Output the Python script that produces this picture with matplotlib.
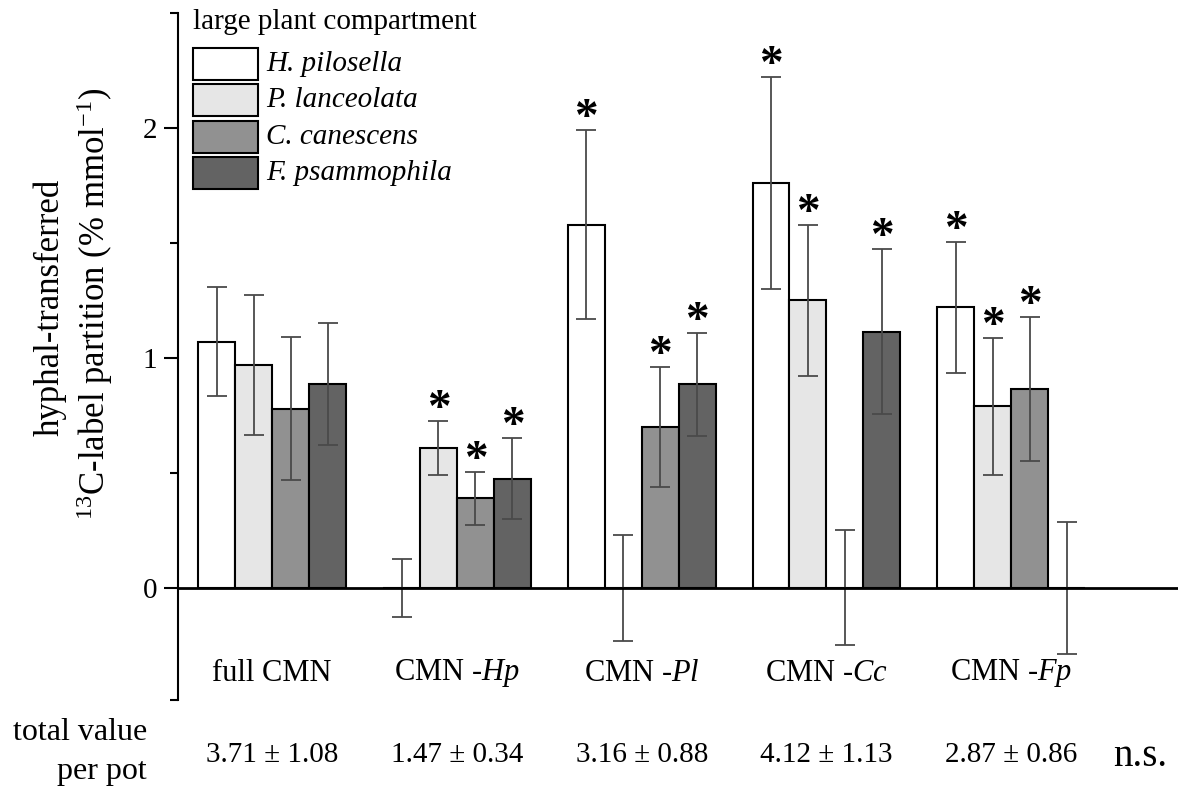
import matplotlib
matplotlib.use("Agg")
import matplotlib.pyplot as plt
from matplotlib.patches import Rectangle
from matplotlib.ticker import FixedLocator
import numpy as np

plt.rcParams['font.family'] = ['Liberation Serif', 'DejaVu Serif']
plt.rcParams['mathtext.fontset'] = 'custom'
plt.rcParams['mathtext.rm'] = 'Liberation Serif'
plt.rcParams['mathtext.it'] = 'Liberation Serif:italic'

# ---------------- data ----------------
groups = ["full CMN", r"CMN -$\mathit{Hp}$", r"CMN -$\mathit{Pl}$",
          r"CMN -$\mathit{Cc}$", r"CMN -$\mathit{Fp}$"]
species = ["H. pilosella", "P. lanceolata", "C. canescens", "F. psammophila"]
colors = ["#ffffff", "#e6e6e6", "#919191", "#636363"]

mean_hp = [1.07, 0.00, 1.58, 1.76, 1.22]
mean_pl = [0.97, 0.61, 0.00, 1.25, 0.79]
mean_cc = [0.78, 0.39, 0.70, 0.00, 0.865]
mean_fp = [0.885, 0.475, 0.885, 1.115, 0.00]

se_hp = [0.237, 0.125, 0.41, 0.46, 0.284]
se_pl = [0.303, 0.118, 0.229, 0.33, 0.298]
se_cc = [0.31, 0.115, 0.263, 0.25, 0.314]
se_fp = [0.265, 0.175, 0.225, 0.36, 0.286]

sig_hp = [0, 0, 1, 1, 1]
sig_pl = [0, 1, 0, 1, 1]
sig_cc = [0, 1, 1, 0, 1]
sig_fp = [0, 1, 1, 1, 0]

totals = ["3.71 ± 1.08", "1.47 ± 0.34", "3.16 ± 0.88", "4.12 ± 1.13", "2.87 ± 0.86"]

means = [mean_hp, mean_pl, mean_cc, mean_fp]
ses = [se_hp, se_pl, se_cc, se_fp]
sigs = [sig_hp, sig_pl, sig_cc, sig_fp]

# ---------------- figure ----------------
W, H = 1180, 787
fig = plt.figure(figsize=(W / 100, H / 100), dpi=100)
ax = fig.add_axes([178 / W, 1 - 700 / H, (1178 - 178) / W, (700 - 13) / H])

bw = 0.2
x = np.arange(len(groups))
for j in range(4):
    xpos = x + (j - 1.5) * bw
    ax.bar(xpos, means[j], width=bw, color=colors[j], edgecolor="black",
           linewidth=1.5, zorder=2)
    ax.errorbar(xpos, means[j], yerr=ses[j], fmt="none", ecolor="#4a4a4a",
                elinewidth=1.3, capsize=7, capthick=1.3, zorder=3)
    for i in range(len(groups)):
        if sigs[j][i]:
            ax.annotate("*", xy=(xpos[i], means[j][i] + ses[j][i]),
                        xytext=(0, 0), textcoords="offset points",
                        ha="center", va="baseline", fontsize=34,
                        fontweight="bold", zorder=4)

ax.axhline(0, color="black", lw=2.0, zorder=5)

ax.set_xlim(-0.51, 4.903)
ax.set_ylim(-0.487, 2.5)
for s in ["top", "right", "bottom"]:
    ax.spines[s].set_visible(False)
ax.spines["left"].set_linewidth(1.5)
ax.set_xticks([])
ax.set_yticks([0, 1, 2])
ax.yaxis.set_minor_locator(FixedLocator([-0.487, 0.5, 1.5, 2.5]))
ax.tick_params(axis="y", which="major", length=10, width=1.5, labelsize=21, pad=5)
ax.tick_params(axis="y", which="minor", length=6, width=1.5)

# group labels
for i, g in enumerate(groups):
    ax.text(i, -0.37, g, ha="center", va="center", fontsize=22)

# y label
fig.text(50 / W, 1 - 307 / H, "hyphal-transferred", rotation=90,
         ha="center", va="center", fontsize=25)
fig.text(95 / W, 1 - 304 / H, r"$^{13}$C-label partition (% mmol$^{-1}$)",
         rotation=90, ha="center", va="center", fontsize=25)

# legend (drawn manually)
fig.text(193 / W, 1 - 22 / H, "large plant compartment", ha="left",
         va="center", fontsize=21)
for j, sp in enumerate(species):
    top = 48 + j * 36.3
    fig.patches.append(Rectangle((193 / W, 1 - (top + 32) / H), 65 / W, 32 / H,
                                 transform=fig.transFigure, facecolor=colors[j],
                                 edgecolor="black", linewidth=1.5))
    fig.text(266 / W, 1 - (top + 16) / H, sp, style="italic", ha="left",
             va="center", fontsize=21)

# bottom totals
fig.text(147 / W, 1 - 733 / H, "total value", ha="right", va="center", fontsize=23)
fig.text(147 / W, 1 - 771 / H, "per pot", ha="right", va="center", fontsize=23)
for i, t in enumerate(totals):
    xd = ax.transData.transform((i, 0))[0]
    fig.text(xd / W, 1 - 755 / H, t, ha="center", va="center", fontsize=21)
fig.text(1140 / W, 1 - 756 / H, "n.s.", ha="center", va="center", fontsize=28)

fig.savefig("out.png", dpi=100)
